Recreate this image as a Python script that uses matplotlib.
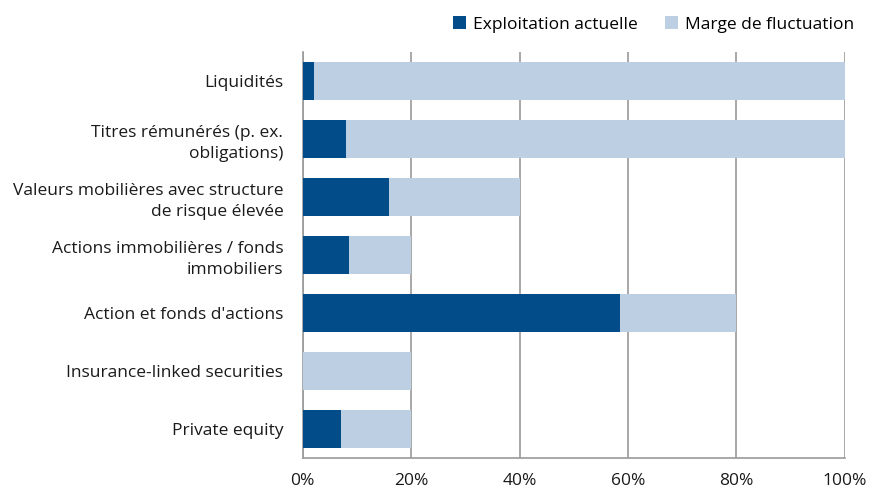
import matplotlib
matplotlib.use("Agg")
import matplotlib.pyplot as plt
import numpy as np

categories = [
    "Liquidités",
    "Titres rémunérés (p. ex.\nobligations)",
    "Valeurs mobilières avec structure\nde risque élevée",
    "Actions immobilières / fonds\nimmobiliers",
    "Action et fonds d'actions",
    "Insurance-linked securities",
    "Private equity",
]
current = [2, 8, 16, 8.5, 58.5, 0, 7]
upper_limit = [100, 100, 40, 20, 80, 20, 20]
margin = [u - c for u, c in zip(upper_limit, current)]

dark = "#024c89"
light = "#bccfe3"
grid_col = "#9a9a9a"

plt.rcParams["font.family"] = ["Open Sans", "DejaVu Sans"]

fig = plt.figure(figsize=(8.7, 4.94), dpi=100)
ax = fig.add_axes([0.348, 0.073, 0.623, 0.822])

y = np.arange(len(categories))
ax.barh(y, current, height=0.655, color=dark, label="Exploitation actuelle", zorder=3)
ax.barh(y, margin, left=current, height=0.655, color=light, label="Marge de fluctuation", zorder=3)

ax.set_yticks(y)
ax.set_yticklabels(categories, fontsize=12.5, color="#1a1a1a", linespacing=1.4)
ax.set_ylim(len(categories) - 0.5, -0.5)
ax.set_xlim(0, 100)
ax.set_xticks([0, 20, 40, 60, 80, 100])
ax.set_xticklabels(["0%", "20%", "40%", "60%", "80%", "100%"], fontsize=12.5, color="#1a1a1a")
ax.tick_params(axis="y", length=0, pad=14)
ax.tick_params(axis="x", length=0, pad=11)

ax.grid(axis="x", color=grid_col, linewidth=1.2, zorder=0)
for s in ["top", "right"]:
    ax.spines[s].set_visible(False)
for s in ["left", "bottom"]:
    ax.spines[s].set_color(grid_col)
    ax.spines[s].set_linewidth(1.2)

fig.legend(loc="upper right", bbox_to_anchor=(0.995, 0.99), ncol=2, frameon=False,
           fontsize=12.5, handlelength=0.75, handleheight=0.75, handletextpad=0.4,
           columnspacing=1.6, borderaxespad=0.25)

fig.savefig("out.png", dpi=100)
